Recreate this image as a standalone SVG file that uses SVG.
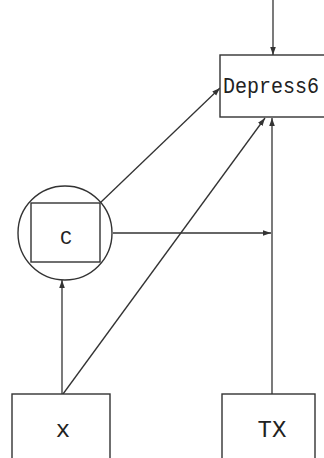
<svg xmlns="http://www.w3.org/2000/svg" width="324" height="458" viewBox="0 0 324 458">
<style>
.box{fill:#fff;stroke:#333;stroke-width:1.4}
.ln{fill:none;stroke:#333;stroke-width:1.3;marker-end:url(#ah)}
.t{font-family:"Liberation Mono","DejaVu Sans Mono",monospace;fill:#222;text-anchor:middle}
</style>
<defs>
<marker id="ah" viewBox="0 0 10 10" refX="10" refY="5" markerWidth="8" markerHeight="8" markerUnits="userSpaceOnUse" orient="auto">
<path d="M0,1.5 L10,5 L0,8.5 Z" fill="#333"/>
</marker>
</defs>
<rect width="324" height="458" fill="#fff"/>
<g id="connectors">
<line class="ln" x1="273" y1="0" x2="273" y2="55"/>
<line class="ln" x1="100" y1="203" x2="220" y2="88"/>
<line class="ln" x1="113" y1="233" x2="271" y2="233"/>
<line class="ln" x1="272" y1="394" x2="272" y2="118"/>
<line class="ln" x1="63" y1="394" x2="265" y2="118"/>
<line class="ln" x1="62" y1="394" x2="62" y2="280"/>
</g>
<g id="Depress6">
<rect class="box" x="220" y="55" width="120" height="62"/>
<text class="t" x="271" y="93" font-size="22" textLength="96" lengthAdjust="spacingAndGlyphs">Depress6</text>
</g>
<g id="C">
<circle cx="65" cy="233" r="47" fill="#fff" stroke="#333" stroke-width="1.4"/>
<rect class="box" x="31" y="203" width="69" height="59"/>
<text class="t" x="66" y="244" font-size="20">C</text>
</g>
<g id="X">
<rect class="box" x="12" y="394" width="98" height="80"/>
<text class="t" x="63" y="437" font-size="24">x</text>
</g>
<g id="TX">
<rect class="box" x="222" y="394" width="93" height="80"/>
<text class="t" x="272" y="437" font-size="24">TX</text>
</g>
</svg>
